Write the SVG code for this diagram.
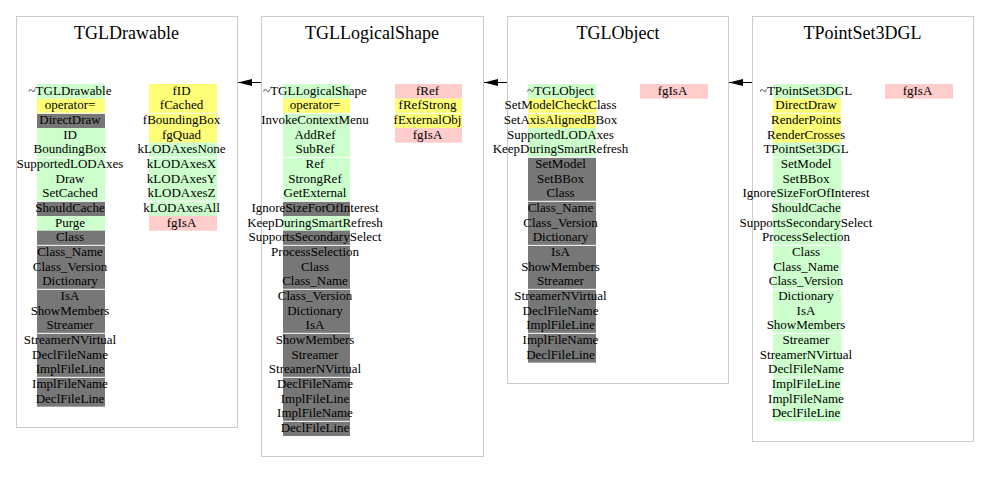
<svg xmlns="http://www.w3.org/2000/svg" width="989" height="483" viewBox="0 0 989 483">
<defs>
<style>
.box{fill:#ffffff;stroke:#cccccc;stroke-width:1}
.title{font-family:"Liberation Serif",serif;font-size:18px;text-anchor:middle;fill:#000}
text.r{font-family:"Liberation Serif",serif;font-size:13px;text-anchor:middle;fill:#000}
.g{fill:#ccffcc}
.y{fill:#ffff77}
.k{fill:#777777}
.p{fill:#ffcccc}
.sep{fill:#ffffff}
.edge{stroke:#000;stroke-width:1;fill:none}
</style>
<marker id="arr" markerUnits="userSpaceOnUse" markerWidth="14" markerHeight="8" refX="14" refY="3.5" orient="auto">
<path d="M0,0 L14,3.5 L0,7 z" fill="#000"/>
</marker>
</defs>
<rect width="989" height="483" fill="#ffffff"/>

<g id="connectors">
<line class="edge" x1="261.5" y1="82.5" x2="238" y2="82.5" marker-end="url(#arr)"/>
<line class="edge" x1="507.5" y1="82.5" x2="484" y2="82.5" marker-end="url(#arr)"/>
<line class="edge" x1="752.5" y1="82.5" x2="729" y2="82.5" marker-end="url(#arr)"/>
</g>

<g id="TGLDrawable">
<rect class="box" x="16.5" y="16.5" width="221" height="411"/>
<text class="title" x="126.5" y="38.5">TGLDrawable</text>
<g>
<rect class="g" x="37" y="84" width="68" height="14.67"/>
<rect class="y" x="37" y="98.67" width="68" height="14.67"/>
<rect class="k" x="37" y="113.33" width="68" height="14.67"/>
<rect class="g" x="37" y="128" width="68" height="88"/>
<rect class="k" x="37" y="201.33" width="68" height="14.67"/>
<rect class="g" x="37" y="216" width="68" height="14.67"/>
<rect class="k" x="37" y="230.67" width="68" height="176"/>
<rect class="sep" x="37" y="112.83" width="68" height="1"/>
<rect class="sep" x="37" y="156.83" width="68" height="1"/>
<rect class="sep" x="37" y="200.83" width="68" height="1"/>
<rect class="sep" x="37" y="244.83" width="68" height="1"/>
<rect class="sep" x="37" y="288.83" width="68" height="1"/>
<rect class="sep" x="37" y="332.83" width="68" height="1"/>
<rect class="sep" x="37" y="376.83" width="68" height="1"/>
<text class="r" x="70" y="94.5">~TGLDrawable</text>
<text class="r" x="70" y="109.17">operator=</text>
<text class="r" x="70" y="123.83">DirectDraw</text>
<text class="r" x="70" y="138.5">ID</text>
<text class="r" x="70" y="153.17">BoundingBox</text>
<text class="r" x="70" y="167.83">SupportedLODAxes</text>
<text class="r" x="70" y="182.5">Draw</text>
<text class="r" x="70" y="197.17">SetCached</text>
<text class="r" x="70" y="211.83">ShouldCache</text>
<text class="r" x="70" y="226.5">Purge</text>
<text class="r" x="70" y="241.17">Class</text>
<text class="r" x="70" y="255.83">Class_Name</text>
<text class="r" x="70" y="270.5">Class_Version</text>
<text class="r" x="70" y="285.17">Dictionary</text>
<text class="r" x="70" y="299.83">IsA</text>
<text class="r" x="70" y="314.5">ShowMembers</text>
<text class="r" x="70" y="329.17">Streamer</text>
<text class="r" x="70" y="343.83">StreamerNVirtual</text>
<text class="r" x="70" y="358.5">DeclFileName</text>
<text class="r" x="70" y="373.17">ImplFileLine</text>
<text class="r" x="70" y="387.83">ImplFileName</text>
<text class="r" x="70" y="402.5">DeclFileLine</text>
</g>
<g>
<rect class="y" x="149" y="84" width="68" height="58.67"/>
<rect class="g" x="149" y="142.67" width="68" height="73.33"/>
<rect class="p" x="149" y="216" width="68" height="14.67"/>
<rect class="sep" x="149" y="112.83" width="68" height="1"/>
<rect class="sep" x="149" y="156.83" width="68" height="1"/>
<rect class="sep" x="149" y="200.83" width="68" height="1"/>
<text class="r" x="181.5" y="94.5">fID</text>
<text class="r" x="181.5" y="109.17">fCached</text>
<text class="r" x="181.5" y="123.83">fBoundingBox</text>
<text class="r" x="181.5" y="138.5">fgQuad</text>
<text class="r" x="181.5" y="153.17">kLODAxesNone</text>
<text class="r" x="181.5" y="167.83">kLODAxesX</text>
<text class="r" x="181.5" y="182.5">kLODAxesY</text>
<text class="r" x="181.5" y="197.17">kLODAxesZ</text>
<text class="r" x="181.5" y="211.83">kLODAxesAll</text>
<text class="r" x="181.5" y="226.5">fgIsA</text>
</g>
</g>

<g id="TGLLogicalShape">
<rect class="box" x="261.5" y="16.5" width="222" height="440"/>
<text class="title" x="372" y="38.5">TGLLogicalShape</text>
<g>
<rect class="g" x="283" y="84" width="67" height="14.67"/>
<rect class="y" x="283" y="98.67" width="67" height="14.67"/>
<rect class="g" x="283" y="113.33" width="67" height="88"/>
<rect class="k" x="283" y="201.33" width="67" height="14.67"/>
<rect class="g" x="283" y="216" width="67" height="14.67"/>
<rect class="k" x="283" y="230.67" width="67" height="205.33"/>
<rect class="sep" x="283" y="112.83" width="67" height="1"/>
<rect class="sep" x="283" y="156.83" width="67" height="1"/>
<rect class="sep" x="283" y="200.83" width="67" height="1"/>
<rect class="sep" x="283" y="244.83" width="67" height="1"/>
<rect class="sep" x="283" y="288.83" width="67" height="1"/>
<rect class="sep" x="283" y="332.83" width="67" height="1"/>
<rect class="sep" x="283" y="376.83" width="67" height="1"/>
<rect class="sep" x="283" y="420.83" width="67" height="1"/>
<text class="r" x="315" y="94.5">~TGLLogicalShape</text>
<text class="r" x="315" y="109.17">operator=</text>
<text class="r" x="315" y="123.83">InvokeContextMenu</text>
<text class="r" x="315" y="138.5">AddRef</text>
<text class="r" x="315" y="153.17">SubRef</text>
<text class="r" x="315" y="167.83">Ref</text>
<text class="r" x="315" y="182.5">StrongRef</text>
<text class="r" x="315" y="197.17">GetExternal</text>
<text class="r" x="315" y="211.83">IgnoreSizeForOfInterest</text>
<text class="r" x="315" y="226.5">KeepDuringSmartRefresh</text>
<text class="r" x="315" y="241.17">SupportsSecondarySelect</text>
<text class="r" x="315" y="255.83">ProcessSelection</text>
<text class="r" x="315" y="270.5">Class</text>
<text class="r" x="315" y="285.17">Class_Name</text>
<text class="r" x="315" y="299.83">Class_Version</text>
<text class="r" x="315" y="314.5">Dictionary</text>
<text class="r" x="315" y="329.17">IsA</text>
<text class="r" x="315" y="343.83">ShowMembers</text>
<text class="r" x="315" y="358.5">Streamer</text>
<text class="r" x="315" y="373.17">StreamerNVirtual</text>
<text class="r" x="315" y="387.83">DeclFileName</text>
<text class="r" x="315" y="402.5">ImplFileLine</text>
<text class="r" x="315" y="417.17">ImplFileName</text>
<text class="r" x="315" y="431.83">DeclFileLine</text>
</g>
<g>
<rect class="p" x="395" y="84" width="67" height="14.67"/>
<rect class="y" x="395" y="98.67" width="67" height="29.33"/>
<rect class="p" x="395" y="128" width="67" height="14.67"/>
<rect class="sep" x="395" y="112.83" width="67" height="1"/>
<text class="r" x="427.5" y="94.5">fRef</text>
<text class="r" x="427.5" y="109.17">fRefStrong</text>
<text class="r" x="427.5" y="123.83">fExternalObj</text>
<text class="r" x="427.5" y="138.5">fgIsA</text>
</g>
</g>

<g id="TGLObject">
<rect class="box" x="507.5" y="16.5" width="221" height="367"/>
<text class="title" x="618" y="38.5">TGLObject</text>
<g>
<rect class="g" x="528" y="84" width="68" height="14.67"/>
<rect class="y" x="528" y="98.67" width="68" height="29.33"/>
<rect class="g" x="528" y="128" width="68" height="29.33"/>
<rect class="k" x="528" y="157.33" width="68" height="205.33"/>
<rect class="sep" x="528" y="112.83" width="68" height="1"/>
<rect class="sep" x="528" y="156.83" width="68" height="1"/>
<rect class="sep" x="528" y="200.83" width="68" height="1"/>
<rect class="sep" x="528" y="244.83" width="68" height="1"/>
<rect class="sep" x="528" y="288.83" width="68" height="1"/>
<rect class="sep" x="528" y="332.83" width="68" height="1"/>
<text class="r" x="560.5" y="94.5">~TGLObject</text>
<text class="r" x="560.5" y="109.17">SetModelCheckClass</text>
<text class="r" x="560.5" y="123.83">SetAxisAlignedBBox</text>
<text class="r" x="560.5" y="138.5">SupportedLODAxes</text>
<text class="r" x="560.5" y="153.17">KeepDuringSmartRefresh</text>
<text class="r" x="560.5" y="167.83">SetModel</text>
<text class="r" x="560.5" y="182.5">SetBBox</text>
<text class="r" x="560.5" y="197.17">Class</text>
<text class="r" x="560.5" y="211.83">Class_Name</text>
<text class="r" x="560.5" y="226.5">Class_Version</text>
<text class="r" x="560.5" y="241.17">Dictionary</text>
<text class="r" x="560.5" y="255.83">IsA</text>
<text class="r" x="560.5" y="270.5">ShowMembers</text>
<text class="r" x="560.5" y="285.17">Streamer</text>
<text class="r" x="560.5" y="299.83">StreamerNVirtual</text>
<text class="r" x="560.5" y="314.5">DeclFileName</text>
<text class="r" x="560.5" y="329.17">ImplFileLine</text>
<text class="r" x="560.5" y="343.83">ImplFileName</text>
<text class="r" x="560.5" y="358.5">DeclFileLine</text>
</g>
<g>
<rect class="p" x="640" y="84" width="68" height="14.67"/>
<text class="r" x="672.5" y="94.5">fgIsA</text>
</g>
</g>

<g id="TPointSet3DGL">
<rect class="box" x="752.5" y="16.5" width="221" height="425"/>
<text class="title" x="862.5" y="38.5">TPointSet3DGL</text>
<g>
<rect class="g" x="773" y="84" width="68" height="14.67"/>
<rect class="y" x="773" y="98.67" width="68" height="44"/>
<rect class="g" x="773" y="142.67" width="68" height="278.67"/>
<rect class="sep" x="773" y="112.83" width="68" height="1"/>
<rect class="sep" x="773" y="156.83" width="68" height="1"/>
<rect class="sep" x="773" y="200.83" width="68" height="1"/>
<rect class="sep" x="773" y="244.83" width="68" height="1"/>
<rect class="sep" x="773" y="288.83" width="68" height="1"/>
<rect class="sep" x="773" y="332.83" width="68" height="1"/>
<rect class="sep" x="773" y="376.83" width="68" height="1"/>
<text class="r" x="806" y="94.5">~TPointSet3DGL</text>
<text class="r" x="806" y="109.17">DirectDraw</text>
<text class="r" x="806" y="123.83">RenderPoints</text>
<text class="r" x="806" y="138.5">RenderCrosses</text>
<text class="r" x="806" y="153.17">TPointSet3DGL</text>
<text class="r" x="806" y="167.83">SetModel</text>
<text class="r" x="806" y="182.5">SetBBox</text>
<text class="r" x="806" y="197.17">IgnoreSizeForOfInterest</text>
<text class="r" x="806" y="211.83">ShouldCache</text>
<text class="r" x="806" y="226.5">SupportsSecondarySelect</text>
<text class="r" x="806" y="241.17">ProcessSelection</text>
<text class="r" x="806" y="255.83">Class</text>
<text class="r" x="806" y="270.5">Class_Name</text>
<text class="r" x="806" y="285.17">Class_Version</text>
<text class="r" x="806" y="299.83">Dictionary</text>
<text class="r" x="806" y="314.5">IsA</text>
<text class="r" x="806" y="329.17">ShowMembers</text>
<text class="r" x="806" y="343.83">Streamer</text>
<text class="r" x="806" y="358.5">StreamerNVirtual</text>
<text class="r" x="806" y="373.17">DeclFileName</text>
<text class="r" x="806" y="387.83">ImplFileLine</text>
<text class="r" x="806" y="402.5">ImplFileName</text>
<text class="r" x="806" y="417.17">DeclFileLine</text>
</g>
<g>
<rect class="p" x="885" y="84" width="68" height="14.67"/>
<text class="r" x="917.5" y="94.5">fgIsA</text>
</g>
</g>
</svg>
